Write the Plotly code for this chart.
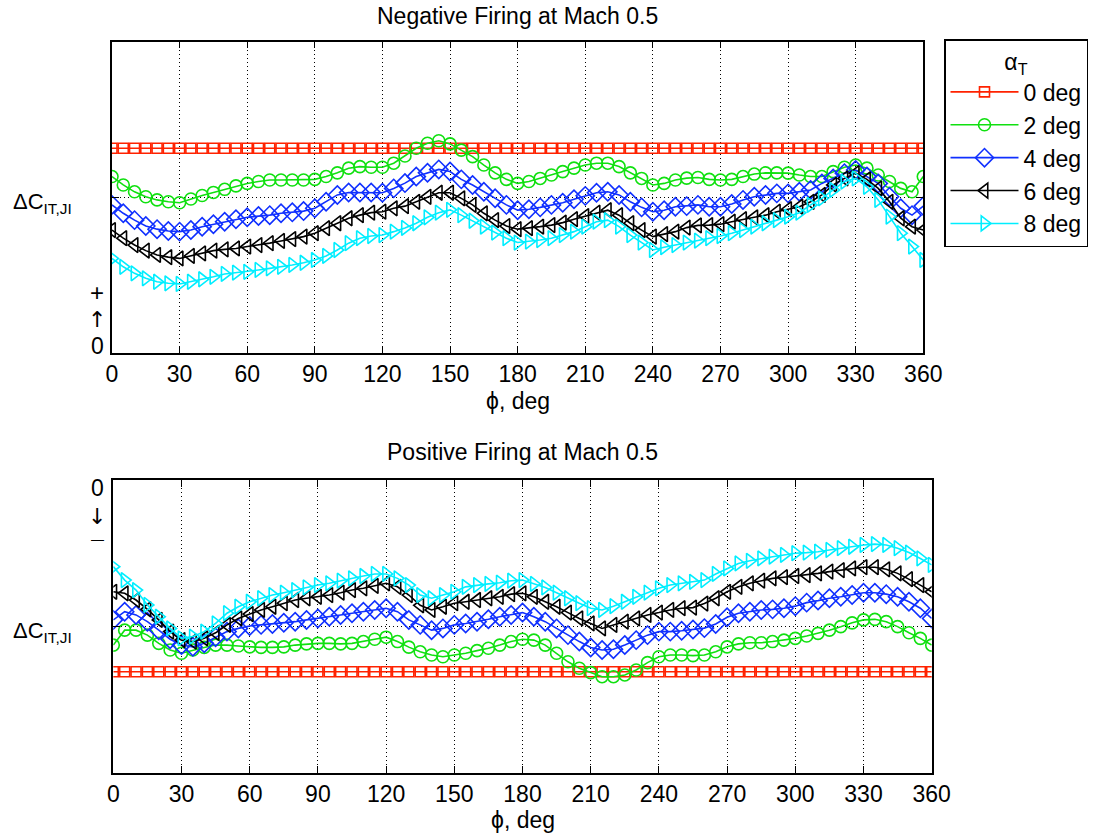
import plotly.graph_objects as go

# ---------------- data ----------------
PHI = list(range(0, 361, 5))
SERIES_NAMES = ["0 deg", "2 deg", "4 deg", "6 deg", "8 deg"]
X_TICKS = list(range(0, 361, 30))

# Negative firing (top panel), arbitrary units, 0 at the bottom, gridline at 5
NEG_0 = [6.57, 6.57, 6.57, 6.57, 6.57, 6.57, 6.57, 6.57, 6.57, 6.57, 6.57, 6.57, 6.57, 6.57, 6.57,
         6.57, 6.57, 6.57, 6.57, 6.57, 6.57, 6.57, 6.57, 6.57, 6.57, 6.57, 6.57, 6.57, 6.57, 6.57,
         6.57, 6.57, 6.57, 6.57, 6.57, 6.57, 6.57, 6.57, 6.57, 6.57, 6.57, 6.57, 6.57, 6.57, 6.57,
         6.57, 6.57, 6.57, 6.57, 6.57, 6.57, 6.57, 6.57, 6.57, 6.57, 6.57, 6.57, 6.57, 6.57, 6.57,
         6.57, 6.57, 6.57, 6.57, 6.57, 6.57, 6.57, 6.57, 6.57, 6.57, 6.57, 6.57, 6.57]
NEG_2 = [5.66, 5.39, 5.17, 5.01, 4.91, 4.85, 4.82, 4.94, 5.05, 5.15, 5.25, 5.36, 5.44, 5.50,
         5.55, 5.55, 5.55, 5.55, 5.57, 5.66, 5.78, 5.93, 5.98, 5.96, 5.96, 6.09, 6.32,
         6.57, 6.73, 6.81, 6.71, 6.51, 6.30, 6.03, 5.78, 5.57, 5.44, 5.50, 5.60, 5.71, 5.82,
         5.93, 6.03, 6.09, 6.09, 5.98, 5.78, 5.60, 5.39, 5.44, 5.55, 5.61, 5.63,
         5.57, 5.55, 5.57, 5.66, 5.74, 5.78, 5.78, 5.77, 5.71, 5.66, 5.66, 5.82, 5.96, 6.03,
         5.93, 5.71, 5.50, 5.28, 5.17, 5.66]
NEG_4 = [4.75, 4.48, 4.26, 4.07, 3.97, 3.91, 3.89, 3.94, 4.05, 4.13, 4.21, 4.29, 4.35, 4.39,
         4.42, 4.48, 4.51, 4.55, 4.64, 4.85, 5.07, 5.15, 5.15, 5.15, 5.14, 5.28, 5.45,
         5.66, 5.78, 5.89, 5.82, 5.57, 5.39, 5.17, 4.96, 4.75, 4.58, 4.61, 4.67, 4.75, 4.82,
         4.93, 5.04, 5.14, 5.17, 5.07, 4.85, 4.67, 4.53, 4.58, 4.69, 4.71, 4.75,
         4.69, 4.69, 4.78, 4.91, 5.01, 5.07, 5.12, 5.12, 5.17, 5.23, 5.44, 5.60, 5.77, 5.87,
         5.66, 5.44, 5.01, 4.64, 4.42, 4.71]
NEG_6 = [3.94, 3.68, 3.46, 3.28, 3.14, 3.07, 3.03, 3.11, 3.19, 3.28, 3.32, 3.35, 3.41, 3.46,
         3.52, 3.59, 3.65, 3.73, 3.84, 4.00, 4.16, 4.32, 4.42, 4.50, 4.53, 4.64, 4.71,
         4.85, 5.01, 5.14, 5.14, 4.96, 4.75, 4.48, 4.26, 4.07, 3.97, 4.00, 4.05, 4.10, 4.18,
         4.29, 4.39, 4.50, 4.58, 4.42, 4.16, 3.94, 3.73, 3.81, 3.89, 4.02, 4.09,
         4.10, 4.13, 4.21, 4.29, 4.35, 4.42, 4.53, 4.61, 4.69, 4.85, 5.07, 5.39, 5.60, 5.77,
         5.57, 5.28, 4.85, 4.32, 4.05, 3.94]
NEG_8 = [3.03, 2.76, 2.55, 2.39, 2.28, 2.23, 2.21, 2.28, 2.36, 2.44, 2.53, 2.57, 2.60, 2.66,
         2.71, 2.76, 2.82, 2.89, 2.98, 3.11, 3.30, 3.52, 3.68, 3.75, 3.78, 3.89, 4.01,
         4.16, 4.35, 4.50, 4.59, 4.42, 4.24, 4.05, 3.86, 3.68, 3.54, 3.57, 3.62, 3.68, 3.78,
         3.89, 4.05, 4.21, 4.26, 4.05, 3.78, 3.54, 3.30, 3.39, 3.46, 3.54, 3.60,
         3.68, 3.75, 3.84, 3.94, 4.05, 4.16, 4.26, 4.37, 4.50, 4.75, 4.96, 5.23, 5.50, 5.60,
         5.33, 4.91, 4.37, 3.84, 3.41, 2.98]

# Positive firing (bottom panel), axis reversed: 0 at the top, gridline at 5
POS_0 = [6.55, 6.55, 6.55, 6.55, 6.55, 6.55, 6.55, 6.55, 6.55, 6.55, 6.55, 6.55, 6.55, 6.55, 6.55,
         6.55, 6.55, 6.55, 6.55, 6.55, 6.55, 6.55, 6.55, 6.55, 6.55, 6.55, 6.55, 6.55, 6.55, 6.55,
         6.55, 6.55, 6.55, 6.55, 6.55, 6.55, 6.55, 6.55, 6.55, 6.55, 6.55, 6.55, 6.55, 6.55, 6.55,
         6.55, 6.55, 6.55, 6.55, 6.55, 6.55, 6.55, 6.55, 6.55, 6.55, 6.55, 6.55, 6.55, 6.55, 6.55,
         6.55, 6.55, 6.55, 6.55, 6.55, 6.55, 6.55, 6.55, 6.55, 6.55, 6.55, 6.55, 6.55]
POS_2 = [5.64, 5.13, 5.13, 5.30, 5.58, 5.81, 5.92, 5.81, 5.72, 5.64, 5.64, 5.67, 5.70, 5.72,
         5.72, 5.70, 5.64, 5.60, 5.58, 5.58, 5.60, 5.58, 5.52, 5.44, 5.37, 5.52, 5.71,
         5.87, 5.98, 6.04, 5.98, 5.92, 5.83, 5.75, 5.64, 5.52, 5.44, 5.47, 5.64, 5.92, 6.21,
         6.43, 6.58, 6.72, 6.72, 6.66, 6.49, 6.24, 6.04, 5.98, 5.98, 6.00, 5.98,
         5.87, 5.70, 5.60, 5.56, 5.56, 5.52, 5.47, 5.41, 5.33, 5.24, 5.13, 5.01, 4.88, 4.78,
         4.76, 4.84, 5.01, 5.22, 5.41, 5.64]
POS_4 = [4.78, 4.50, 4.61, 4.84, 5.13, 5.44, 5.64, 5.70, 5.58, 5.37, 5.18, 5.07, 4.99, 4.95,
         4.92, 4.88, 4.84, 4.78, 4.73, 4.67, 4.61, 4.55, 4.50, 4.44, 4.38, 4.50, 4.78,
         4.95, 5.13, 5.07, 4.95, 4.90, 4.84, 4.76, 4.67, 4.61, 4.53, 4.67, 4.84, 5.07, 5.30,
         5.52, 5.72, 5.81, 5.78, 5.64, 5.47, 5.30, 5.18, 5.18, 5.15, 5.11, 5.06,
         4.92, 4.69, 4.55, 4.50, 4.44, 4.42, 4.38, 4.31, 4.19, 4.12, 4.04, 3.99, 3.93, 3.85,
         3.85, 3.90, 3.99, 4.16, 4.38, 4.73]
POS_6 = [3.82, 3.87, 4.10, 4.42, 4.78, 5.18, 5.47, 5.52, 5.41, 5.22, 4.95, 4.73, 4.58, 4.44,
         4.33, 4.21, 4.10, 4.04, 3.99, 3.93, 3.85, 3.76, 3.70, 3.62, 3.53, 3.65, 3.93,
         4.28, 4.44, 4.33, 4.21, 4.16, 4.10, 4.04, 3.99, 3.90, 3.87, 3.99, 4.16, 4.33, 4.53,
         4.73, 4.90, 5.07, 4.95, 4.84, 4.73, 4.61, 4.53, 4.44, 4.38, 4.36, 4.22,
         4.04, 3.82, 3.65, 3.53, 3.44, 3.36, 3.32, 3.28, 3.25, 3.19, 3.13, 3.08, 3.02, 2.98,
         2.98, 3.05, 3.19, 3.39, 3.59, 3.82]
POS_8 = [2.96, 3.42, 3.76, 4.27, 4.67, 5.07, 5.41, 5.35, 5.18, 4.90, 4.55, 4.33, 4.16, 4.04,
         3.93, 3.85, 3.76, 3.67, 3.59, 3.53, 3.44, 3.36, 3.28, 3.21, 3.21, 3.36, 3.59,
         3.93, 4.04, 3.93, 3.82, 3.65, 3.59, 3.55, 3.51, 3.44, 3.42, 3.55, 3.67, 3.85, 4.04,
         4.21, 4.38, 4.44, 4.31, 4.16, 3.99, 3.85, 3.70, 3.59, 3.53, 3.48, 3.42,
         3.21, 3.02, 2.85, 2.76, 2.68, 2.62, 2.56, 2.50, 2.48, 2.45, 2.39, 2.33, 2.28, 2.22,
         2.19, 2.22, 2.33, 2.48, 2.68, 2.90]

NEG = [NEG_0, NEG_2, NEG_4, NEG_6, NEG_8]
POS = [POS_0, POS_2, POS_4, POS_6, POS_8]

# ---------------- styling ----------------
W, H = 1096, 834
FONT = "Liberation Sans, Arial, Helvetica, sans-serif"
ARROW_FONT = "DejaVu Sans, Liberation Sans, sans-serif"
FS = 23
STYLES = [
    dict(color="#FF2200", symbol="square-open", size=10),
    dict(color="#10E010", symbol="circle-open", size=12),
    dict(color="#1030FF", symbol="diamond-open", size=14),
    dict(color="#000000", symbol="triangle-left-open", size=13),
    dict(color="#00EEFF", symbol="triangle-right-open", size=13),
]


def px(x):
    return x / W


def py(y):
    return 1 - y / H


fig = go.Figure()
for panel, (data, xa, ya) in enumerate([(NEG, "x", "y"), (POS, "x2", "y2")]):
    for name, st, yv in zip(SERIES_NAMES, STYLES, data):
        fig.add_trace(go.Scatter(
            x=PHI, y=yv, mode="lines+markers", name=name,
            showlegend=(panel == 0), xaxis=xa, yaxis=ya,
            line=dict(color=st["color"], width=1.6),
            marker=dict(symbol=st["symbol"], size=st["size"], color=st["color"],
                        line=dict(color=st["color"], width=1.6)),
        ))

axis_common = dict(
    showline=True, linecolor="black", linewidth=1.5, mirror="ticks",
    ticks="inside", ticklen=7, tickcolor="black", tickwidth=1,
    showgrid=True, gridcolor="black", griddash="1px,3px", gridwidth=1,
    zeroline=False, tickfont=dict(size=FS, color="black", family=FONT),
)

xa_top = dict(axis_common, domain=[px(112), px(923.3)], range=[0, 360],
              tickvals=X_TICKS, anchor="y")
xa_bot = dict(axis_common, domain=[px(113.3), px(931.7)], range=[0, 360],
              tickvals=X_TICKS, anchor="y2")
ya_top = dict(axis_common, domain=[py(352.7), py(41.5)], range=[0, 10],
              tickvals=[5], showticklabels=False, anchor="x")
ya_bot = dict(axis_common, domain=[py(772.7), py(480)], range=[10, 0],
              tickvals=[5], showticklabels=False, anchor="x2")

ann = []


def text(x, y, s, xanchor="center", yanchor="middle", size=FS, family=FONT):
    ann.append(dict(x=px(x), y=py(y), xref="paper", yref="paper", text=s,
                    showarrow=False, xanchor=xanchor, yanchor=yanchor,
                    font=dict(size=size, color="black", family=family)))


text(517.5, 16, "Negative Firing at Mach 0.5")
text(522.5, 452, "Positive Firing at Mach 0.5")
text(517.5, 401, "ϕ, deg")
text(522.5, 820, "ϕ, deg")
# top y-axis labels
text(74, 203, "ΔC<sub>IT,JI</sub>", xanchor="right", size=22)
text(97, 292, "+", size=24)
text(97, 319, "↑", size=22, family=ARROW_FONT)
text(97, 346, "0")
# bottom y-axis labels
text(74, 632, "ΔC<sub>IT,JI</sub>", xanchor="right", size=22)
text(97, 488, "0")
text(97, 516, "↓", size=22, family=ARROW_FONT)
text(97, 539, "—", size=13)

fig.update_layout(
    width=W, height=H,
    margin=dict(l=0, r=0, t=0, b=0, autoexpand=False),
    paper_bgcolor="white", plot_bgcolor="white",
    font=dict(family=FONT, size=FS, color="black"),
    xaxis=xa_top, yaxis=ya_top, xaxis2=xa_bot, yaxis2=ya_bot,
    showlegend=True,
    legend=dict(x=px(944), y=py(39), xanchor="left", yanchor="top",
                bordercolor="black", borderwidth=1.5, bgcolor="white",
                font=dict(size=FS, family=FONT, color="black"),
                title=dict(text="α<sub>T</sub>", side="top center",
                           font=dict(size=FS, family=FONT, color="black")),
                itemwidth=68),
    annotations=ann,
)

fig.write_html("out.html")
